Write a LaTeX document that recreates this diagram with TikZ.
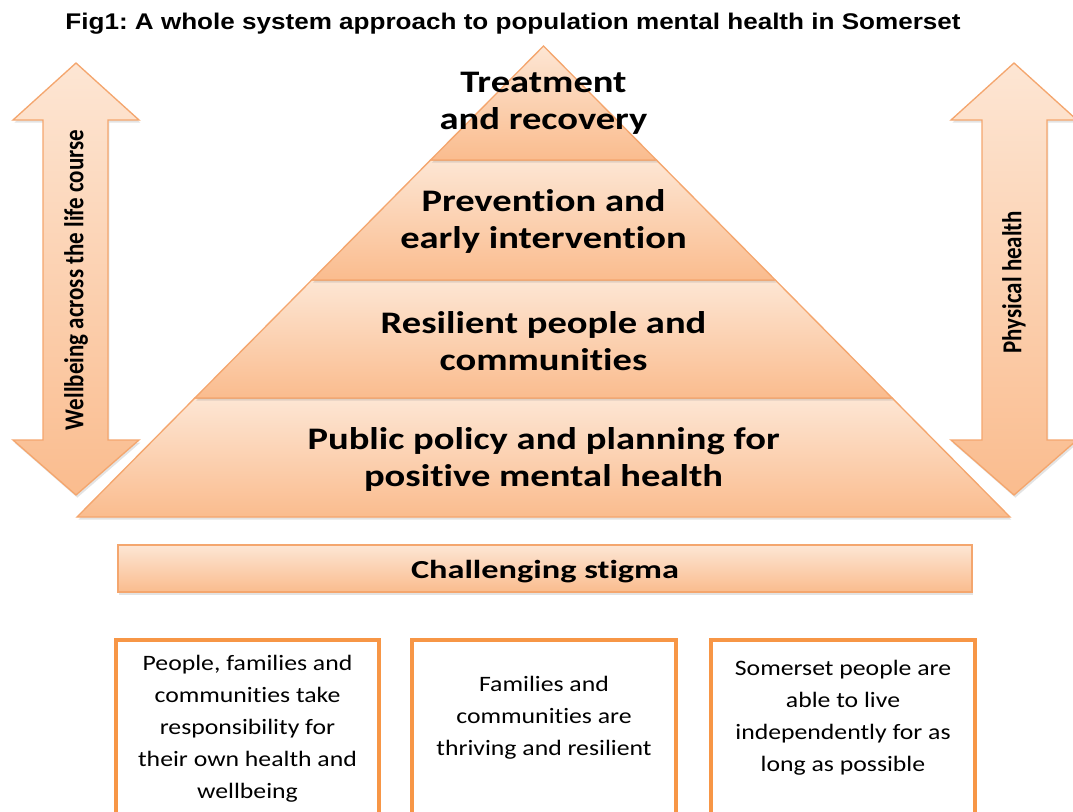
\documentclass[tikz,border=0pt]{standalone}
\usepackage{fontspec}
\setmainfont{Carlito}[Ligatures=NoCommon]
\newfontfamily\pyrfont[FakeStretch=1.23,Ligatures=NoCommon]{Carlito Bold}
\newfontfamily\stigfont[FakeStretch=1.32,Ligatures=NoCommon]{Carlito Bold}
\newfontfamily\rotfont[FakeStretch=0.84,Ligatures=NoCommon]{Carlito Bold}
\newfontfamily\boxfont[FakeStretch=1.17,Ligatures=NoCommon]{Carlito}
\newfontfamily\titlefont[FakeStretch=1.15]{Liberation Sans Bold}
\usetikzlibrary{shadows,calc}
\definecolor{pyrtop}{RGB}{253,230,212}
\definecolor{pyrbot}{RGB}{250,188,142}
\definecolor{pyrline}{RGB}{244,166,110}
\definecolor{boxline}{RGB}{247,150,70}
\frenchspacing
\begin{document}
\begin{tikzpicture}[x=0.75pt,y=-0.75pt,
  pyr/.style={draw=pyrline, line width=1pt, top color=pyrtop, bottom color=pyrbot,
    drop shadow={opacity=0.22, shadow xshift=1pt, shadow yshift=-2pt}},
  pyrtext/.style={inner sep=0pt, align=center, font=\pyrfont\fontsize{23.5}{27.75}\selectfont},
  stigtext/.style={inner sep=0pt, font=\stigfont\fontsize{19.5}{23}\selectfont},
  rottext/.style={inner sep=0pt, rotate=90, font=\rotfont\fontsize{20.5}{24}\selectfont},
  boxtext/.style={inner sep=0pt, align=center, font=\boxfont\fontsize{16.5}{24}\selectfont},
  outbox/.style={draw=boxline, line width=3pt, fill=white}]
\useasboundingbox (0,0) rectangle (1073,811);
\clip (0,0) rectangle (1073,811);

% title
\node[inner sep=0pt, font=\titlefont\fontsize{17}{20}\selectfont] (title) at (513,24)
  {Fig1: A whole system approach to population mental health in Somerset};

% side arrows
\path[pyr] (76,63) -- (139,120) -- (108,120) -- (108,440) -- (139,440) -- (76,495)
  -- (13,440) -- (43,440) -- (43,120) -- (13,120) -- cycle;
\node[rottext] (wl) at (76,280) {Wellbeing across the life course};
\path[pyr] (1014,63) -- (1077,120) -- (1047,120) -- (1047,440) -- (1077,440) -- (1014,495)
  -- (951,440) -- (982,440) -- (982,120) -- (951,120) -- cycle;
\node[rottext] (ph) at (1014,282) {Physical health};

% pyramid
\coordinate (A) at (543.5,46);
\coordinate (BL) at (77,517);
\coordinate (BR) at (1010,517);
\path[pyr] ($(A)!0.7473!(BL)$) -- ($(A)!0.7473!(BR)$) -- (BR) -- (BL) -- cycle;
\path[pyr] ($(A)!0.4968!(BL)$) -- ($(A)!0.4968!(BR)$) -- ($(A)!0.7473!(BR)$) -- ($(A)!0.7473!(BL)$) -- cycle;
\path[pyr] ($(A)!0.2420!(BL)$) -- ($(A)!0.2420!(BR)$) -- ($(A)!0.4968!(BR)$) -- ($(A)!0.4968!(BL)$) -- cycle;
\path[pyr] (A) -- ($(A)!0.2420!(BR)$) -- ($(A)!0.2420!(BL)$) -- cycle;

\node[pyrtext] (lv1) at (543.5,103.5) {Treatment\\and recovery};
\node[pyrtext] (lv2) at (543.5,221.5) {Prevention and\\early intervention};
\node[pyrtext] (lv3) at (543.5,341) {Resilient people and\\communities};
\node[pyrtext] (lv4) at (543.5,459) {Public policy and planning for\\positive mental health};

% stigma bar
\path[pyr] (118,545) rectangle (972,592);
\node[stigtext] (cs) at (545,572) {Challenging stigma};

% outcome boxes
\draw[outbox] (116,640) rectangle (379,830);
\draw[outbox] (412,640) rectangle (676,830);
\draw[outbox] (711,640) rectangle (975,830);
\node[boxtext] (b1) at (247.5,728.5) {People, families and\\communities take\\responsibility for\\their own health and\\wellbeing};
\node[boxtext] (b2) at (544,717.5) {Families and\\communities are\\thriving and resilient};
\node[boxtext] (b3) at (843,718) {Somerset people are\\able to live\\independently for as\\long as possible};
\end{tikzpicture}
\end{document}
